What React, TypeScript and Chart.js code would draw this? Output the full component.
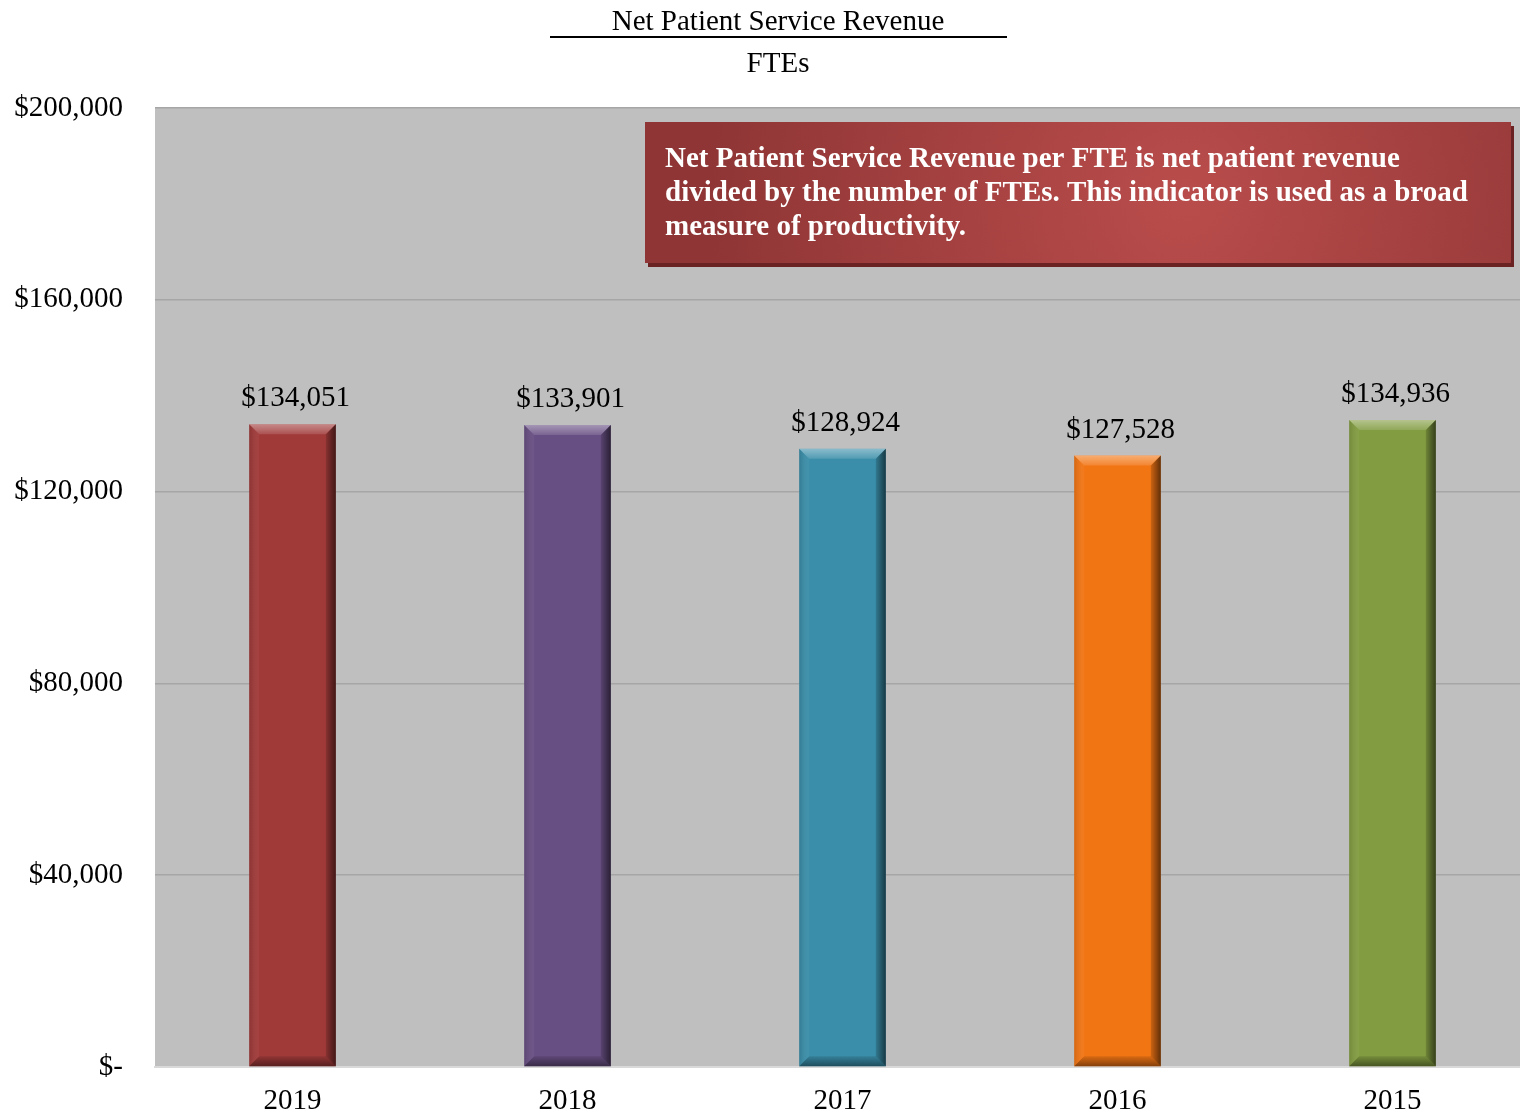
import React, { useEffect, useRef } from "react";
import { Chart, registerables } from "chart.js";

Chart.register(...registerables);

const categories = ["2019", "2018", "2017", "2016", "2015"];
const values = [134051, 133901, 128924, 127528, 134936];
const barColors = ["#A03A39", "#684F83", "#3A8EA9", "#F27514", "#829C41"];
const yTicks = [0, 40000, 80000, 120000, 160000, 200000];
const titleTop = "Net Patient Service Revenue";
const titleBottom = "FTEs";
const noteLines = [
  "Net Patient Service Revenue per FTE is net patient revenue",
  "divided by the number of FTEs. This indicator is used as a broad",
  "measure of productivity.",
];

const FONT = "'Liberation Serif', 'Times New Roman', serif";
const FS = 29;

const fmt = (v: number) => (v === 0 ? "$-" : "$" + v.toLocaleString("en-US"));

const decorPlugin = {
  id: "decor",
  beforeDraw(chart: any) {
    const { ctx, chartArea } = chart;
    ctx.save();
    ctx.fillStyle = "#BFBFBF";
    ctx.fillRect(chartArea.left, chartArea.top, chartArea.right - chartArea.left, chartArea.bottom - chartArea.top);
    ctx.restore();
  },
  afterDatasetsDraw(chart: any) {
    const { ctx } = chart;
    const meta = chart.getDatasetMeta(0);
    ctx.save();
    meta.data.forEach((bar: any, i: number) => {
      const w = bar.width;
      const l = bar.x - w / 2;
      const r = bar.x + w / 2;
      const t = bar.y;
      const b = bar.base;
      const bv = 10;
      let g = ctx.createLinearGradient(0, t, 0, t + bv);
      g.addColorStop(0, "rgba(255,255,255,0.4)");
      g.addColorStop(1, "rgba(255,255,255,0.12)");
      ctx.fillStyle = g;
      ctx.beginPath();
      ctx.moveTo(l, t); ctx.lineTo(r, t); ctx.lineTo(r - bv, t + bv); ctx.lineTo(l + bv, t + bv); ctx.closePath();
      ctx.fill();
      g = ctx.createLinearGradient(l, 0, l + bv, 0);
      g.addColorStop(0, "rgba(0,0,0,0.12)");
      g.addColorStop(1, "rgba(255,255,255,0.04)");
      ctx.fillStyle = g;
      ctx.beginPath();
      ctx.moveTo(l, t); ctx.lineTo(l + bv, t + bv); ctx.lineTo(l + bv, b - bv); ctx.lineTo(l, b); ctx.closePath();
      ctx.fill();
      g = ctx.createLinearGradient(r - bv, 0, r, 0);
      g.addColorStop(0, "rgba(0,0,0,0.15)");
      g.addColorStop(1, "rgba(0,0,0,0.6)");
      ctx.fillStyle = g;
      ctx.beginPath();
      ctx.moveTo(r, t); ctx.lineTo(r - bv, t + bv); ctx.lineTo(r - bv, b - bv); ctx.lineTo(r, b); ctx.closePath();
      ctx.fill();
      g = ctx.createLinearGradient(0, b - bv, 0, b);
      g.addColorStop(0, "rgba(0,0,0,0.1)");
      g.addColorStop(1, "rgba(0,0,0,0.45)");
      ctx.fillStyle = g;
      ctx.beginPath();
      ctx.moveTo(l, b); ctx.lineTo(r, b); ctx.lineTo(r - bv, b - bv); ctx.lineTo(l + bv, b - bv); ctx.closePath();
      ctx.fill();
      ctx.fillStyle = "#000";
      ctx.font = `${FS}px ${FONT}`;
      ctx.textAlign = "center";
      ctx.textBaseline = "alphabetic";
      ctx.fillText(fmt(values[i]), bar.x + 3, t - 18);
    });
    ctx.restore();
  },
  afterDraw(chart: any) {
    const { ctx } = chart;
    ctx.save();
    ctx.fillStyle = "#000";
    ctx.font = `${FS}px ${FONT}`;
    ctx.textAlign = "center";
    ctx.textBaseline = "alphabetic";
    ctx.fillText(titleTop, 778, 30);
    ctx.fillRect(550, 36, 457, 2);
    ctx.fillText(titleBottom, 778, 72);

    const bx = 645, by = 122, bw = 866, bh = 141;
    ctx.fillStyle = "#6A2222";
    ctx.fillRect(bx + 3, by + 4, bw, bh);
    const g = ctx.createRadialGradient(bx + bw * 0.62, by + bh * 0.55, 10, bx + bw * 0.62, by + bh * 0.55, bw * 0.55);
    g.addColorStop(0, "#B84C4B");
    g.addColorStop(1, "#8F3535");
    ctx.fillStyle = g;
    ctx.fillRect(bx, by, bw, bh);
    ctx.fillStyle = "#FFFFFF";
    ctx.font = `bold ${FS}px ${FONT}`;
    ctx.textAlign = "left";
    noteLines.forEach((line, i) => {
      ctx.fillText(line, 665, 167 + i * 34);
    });
    ctx.restore();
  },
};

export default function App() {
  const ref = useRef<HTMLCanvasElement>(null);
  useEffect(() => {
    const chart = new Chart(ref.current!, {
      type: "bar",
      data: {
        labels: categories,
        datasets: [
          {
            data: values,
            backgroundColor: barColors,
            borderWidth: 0,
            barPercentage: 0.315,
            categoryPercentage: 1,
          },
        ],
      },
      options: {
        animation: false,
        responsive: false,
        devicePixelRatio: 1,
        layout: { padding: { top: 108, right: 0, left: 0, bottom: 0 } },
        plugins: { legend: { display: false }, tooltip: { enabled: false } },
        scales: {
          x: {
            grid: { display: false, drawTicks: false },
            border: { display: true, color: "#D9D9D9", width: 2 },
            ticks: { font: { family: FONT, size: FS }, color: "#000", padding: 17 },
            afterFit: (s: any) => { s.height = 50; },
          },
          y: {
            min: 0,
            max: 200000,
            afterBuildTicks: (s: any) => { s.ticks = yTicks.map((v) => ({ value: v })); },
            grid: { color: "#A6A6A6", lineWidth: 1.5, drawTicks: false },
            border: { display: false },
            ticks: {
              font: { family: FONT, size: FS },
              color: "#000",
              padding: 32,
              callback: (v: any) => fmt(Number(v)),
            },
            afterFit: (s: any) => { s.width = 155; },
          },
        },
      },
      plugins: [decorPlugin],
    });
    return () => chart.destroy();
  }, []);
  return (
    <div style={{ position: "fixed", left: 0, top: 0, width: 1520, height: 1117, overflow: "hidden", background: "#fff" }}>
      <canvas ref={ref} width={1530} height={1117} style={{ width: 1530, height: 1117, display: "block" }} />
    </div>
  );
}
